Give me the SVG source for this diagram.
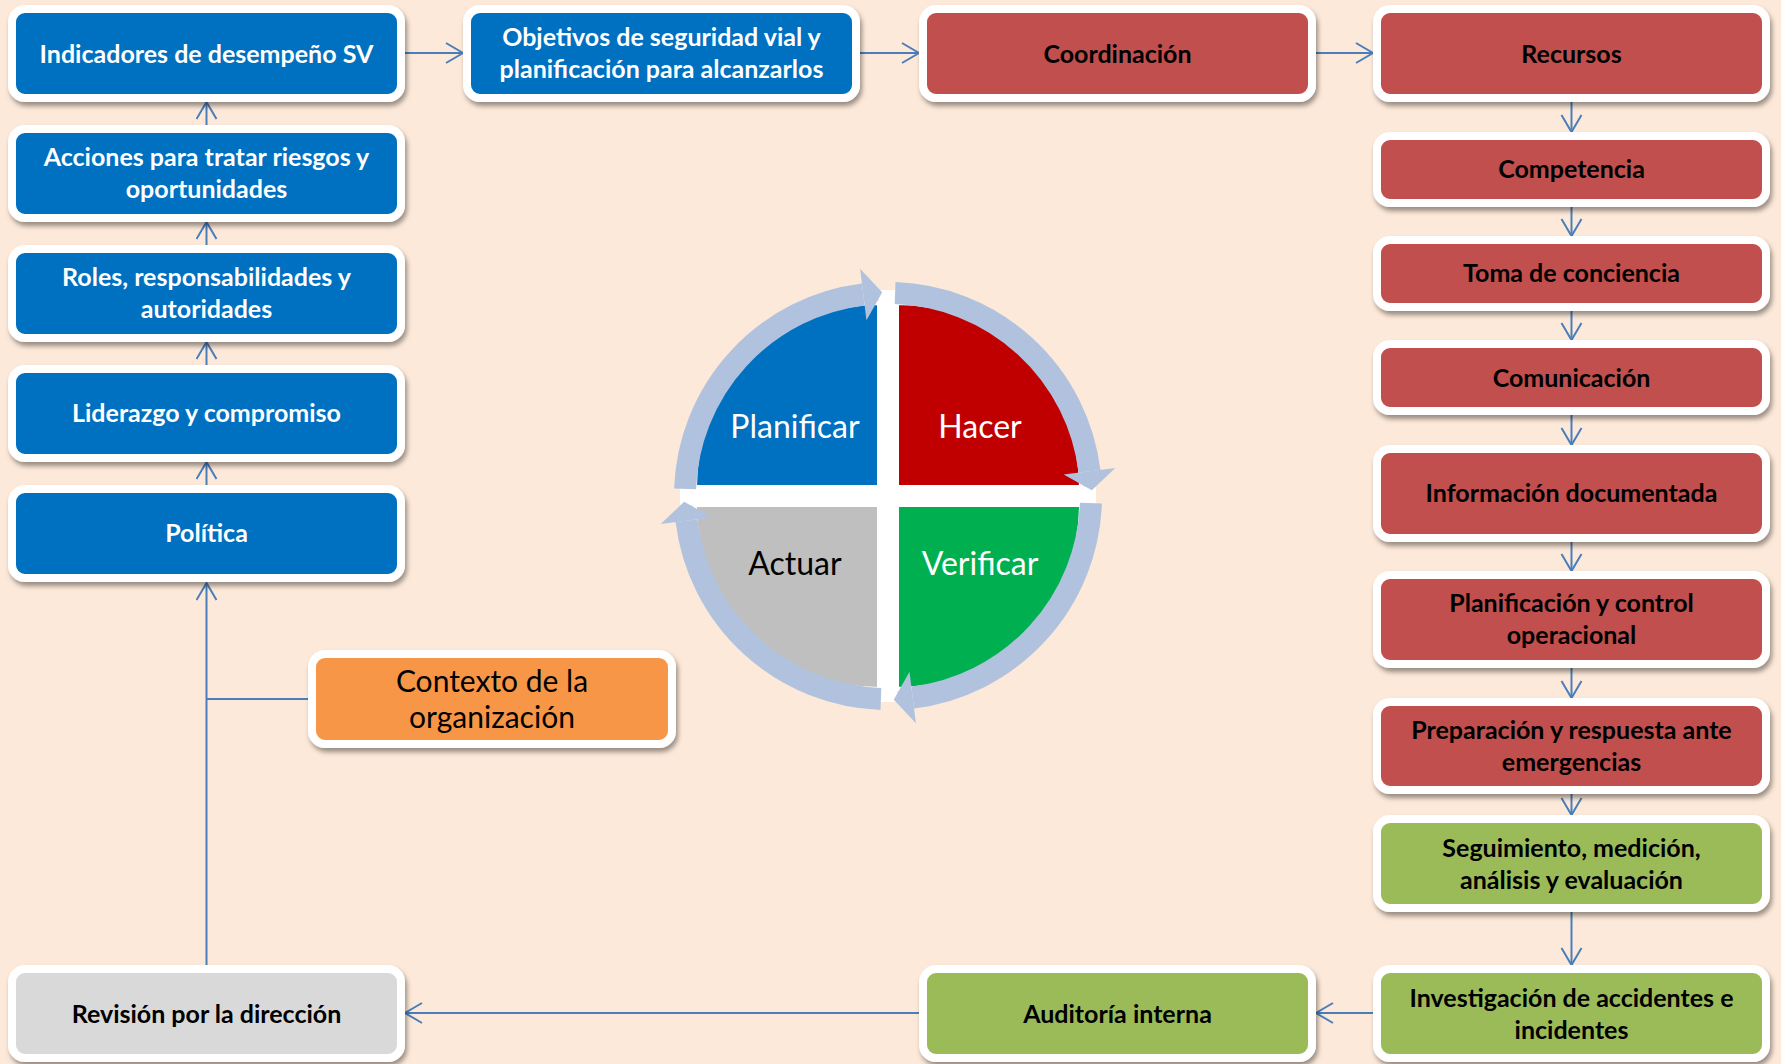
<svg xmlns="http://www.w3.org/2000/svg" xmlns:xlink="http://www.w3.org/1999/xlink" width="1781" height="1064" viewBox="0 0 1781 1064">
<defs>
<style>
.box{stroke:#fff;stroke-width:8;filter:url(#sh)}
.blue{fill:#0070C0}.red{fill:#C0504D}.green{fill:#9BBB59}.gray{fill:#D9D9D9}.orange{fill:#F79646}
.t{font-family:Lato,"Liberation Sans",sans-serif;font-weight:bold;font-size:25px;text-anchor:middle}
.w{fill:#fff}.k{fill:#000}
.ctx{font-family:Lato,"Liberation Sans",sans-serif;font-size:30px;text-anchor:middle;fill:#000}
.pd{font-family:Lato,"Liberation Sans",sans-serif;font-size:32px;text-anchor:middle}
.c{fill:none;stroke:#4A7EBB;stroke-width:2}
.ca{fill:none;stroke:#4A7EBB;stroke-width:2;marker-end:url(#ah)}
.ring{fill:none;stroke:#B0C2DE;stroke-width:22}
</style>
<filter id="sh" x="-10%" y="-20%" width="120%" height="150%">
<feDropShadow dx="2" dy="4" stdDeviation="2.5" flood-color="#000" flood-opacity="0.4"/>
</filter>
<marker id="ah" markerUnits="userSpaceOnUse" markerWidth="22" markerHeight="24" refX="18" refY="11" orient="auto">
<path d="M1,1 L18,11 L1,21" fill="none" stroke="#4A7EBB" stroke-width="2"/>
</marker>
<g id="seg">
<path class="ring" d="M685.1 488.9 A203 203 0 0 1 863.3 294.5"/>
<polygon points="860.1,268.7 882.2,292.2 866.5,320.3" fill="#B0C2DE"/>
</g>
</defs>
<rect x="0" y="0" width="1781" height="1064" fill="#FDE9D9"/>

<g id="connectors">
<line class="ca" x1="206.5" y1="125" x2="206.5" y2="102"/>
<line class="ca" x1="206.5" y1="245" x2="206.5" y2="222"/>
<line class="ca" x1="206.5" y1="365" x2="206.5" y2="342"/>
<line class="ca" x1="206.5" y1="485" x2="206.5" y2="462"/>
<line class="ca" x1="206.5" y1="965" x2="206.5" y2="583"/>
<line class="c" x1="206.5" y1="699" x2="308" y2="699"/>
<line class="ca" x1="405" y1="53" x2="463" y2="53"/>
<line class="ca" x1="860" y1="53" x2="919" y2="53"/>
<line class="ca" x1="1316" y1="53" x2="1373" y2="53"/>
<line class="ca" x1="1571.5" y1="102" x2="1571.5" y2="132"/>
<line class="ca" x1="1571.5" y1="207" x2="1571.5" y2="236"/>
<line class="ca" x1="1571.5" y1="311" x2="1571.5" y2="340"/>
<line class="ca" x1="1571.5" y1="415" x2="1571.5" y2="445"/>
<line class="ca" x1="1571.5" y1="542" x2="1571.5" y2="571"/>
<line class="ca" x1="1571.5" y1="668" x2="1571.5" y2="698"/>
<line class="ca" x1="1571.5" y1="794" x2="1571.5" y2="815"/>
<line class="ca" x1="1571.5" y1="912" x2="1571.5" y2="965"/>
<line class="ca" x1="1373" y1="1013" x2="1316" y2="1013"/>
<line class="ca" x1="919" y1="1013" x2="405" y2="1013"/>
</g>

<g id="n-indicadores"><rect class="box blue" x="12" y="9" width="389" height="89" rx="13"/><text class="t w" x="206.5" y="63">Indicadores de desempeño SV</text></g>
<g id="n-acciones"><rect class="box blue" x="12" y="129" width="389" height="89" rx="13"/><text class="t w" x="206.5" y="166">Acciones para tratar riesgos y</text><text class="t w" x="206.5" y="198">oportunidades</text></g>
<g id="n-roles"><rect class="box blue" x="12" y="249" width="389" height="89" rx="13"/><text class="t w" x="206.5" y="286">Roles, responsabilidades y</text><text class="t w" x="206.5" y="318">autoridades</text></g>
<g id="n-liderazgo"><rect class="box blue" x="12" y="369" width="389" height="89" rx="13"/><text class="t w" x="206.5" y="422">Liderazgo y compromiso</text></g>
<g id="n-politica"><rect class="box blue" x="12" y="489" width="389" height="89" rx="13"/><text class="t w" x="206.5" y="542">Política</text></g>
<g id="n-revision"><rect class="box gray" x="12" y="969" width="389" height="89" rx="13"/><text class="t k" x="206.5" y="1022.5">Revisión por la dirección</text></g>
<g id="n-contexto"><rect class="box orange" x="312" y="654" width="360" height="90" rx="13"/><text class="ctx" x="492" y="692">Contexto de la</text><text class="ctx" x="492" y="728">organización</text></g>

<g id="n-objetivos"><rect class="box blue" x="467" y="9" width="389" height="89" rx="13"/><text class="t w" x="661.5" y="46">Objetivos de seguridad vial y</text><text class="t w" x="661.5" y="78">planificación para alcanzarlos</text></g>
<g id="n-coordinacion"><rect class="box red" x="923" y="9" width="389" height="89" rx="13"/><text class="t k" x="1117.5" y="63">Coordinación</text></g>
<g id="n-auditoria"><rect class="box green" x="923" y="969" width="389" height="89" rx="13"/><text class="t k" x="1117.5" y="1022.5">Auditoría interna</text></g>

<g id="n-recursos"><rect class="box red" x="1377" y="9" width="389" height="89" rx="13"/><text class="t k" x="1571.5" y="63">Recursos</text></g>
<g id="n-competencia"><rect class="box red" x="1377" y="136" width="389" height="67" rx="13"/><text class="t k" x="1571.5" y="178">Competencia</text></g>
<g id="n-toma"><rect class="box red" x="1377" y="240" width="389" height="67" rx="13"/><text class="t k" x="1571.5" y="282">Toma de conciencia</text></g>
<g id="n-comunicacion"><rect class="box red" x="1377" y="344" width="389" height="67" rx="13"/><text class="t k" x="1571.5" y="386.5">Comunicación</text></g>
<g id="n-informacion"><rect class="box red" x="1377" y="449" width="389" height="89" rx="13"/><text class="t k" x="1571.5" y="502">Información documentada</text></g>
<g id="n-planificacion"><rect class="box red" x="1377" y="575" width="389" height="89" rx="13"/><text class="t k" x="1571.5" y="612">Planificación y control</text><text class="t k" x="1571.5" y="644">operacional</text></g>
<g id="n-preparacion"><rect class="box red" x="1377" y="702" width="389" height="88" rx="13"/><text class="t k" x="1571.5" y="738.5">Preparación y respuesta ante</text><text class="t k" x="1571.5" y="770.5">emergencias</text></g>
<g id="n-seguimiento"><rect class="box green" x="1377" y="819" width="389" height="89" rx="13"/><text class="t k" x="1571.5" y="856.5">Seguimiento, medición,</text><text class="t k" x="1571.5" y="888.5">análisis y evaluación</text></g>
<g id="n-investigacion"><rect class="box green" x="1377" y="969" width="389" height="89" rx="13"/><text class="t k" x="1571.5" y="1006.5">Investigación de accidentes e</text><text class="t k" x="1571.5" y="1038.5">incidentes</text></g>

<g id="pdca">
<rect x="680" y="487" width="416" height="18" fill="#fff"/>
<rect x="879" y="290" width="18" height="412" fill="#fff"/>
<g stroke="#fff" stroke-width="4">
<path d="M879 487 L695 487 A184 184 0 0 1 879 303 Z" fill="#0070C0"/>
<path d="M897 487 L897 303 A184 184 0 0 1 1081 487 Z" fill="#C00000"/>
<path d="M897 505 L1081 505 A184 184 0 0 1 897 689 Z" fill="#00B050"/>
<path d="M879 505 L879 689 A184 184 0 0 1 695 505 Z" fill="#BFBFBF"/>
</g>
<use xlink:href="#seg"/>
<use xlink:href="#seg" transform="rotate(90 888 496)"/>
<use xlink:href="#seg" transform="rotate(180 888 496)"/>
<use xlink:href="#seg" transform="rotate(270 888 496)"/>
<text class="pd w" x="795" y="438">Planificar</text>
<text class="pd w" x="980" y="438">Hacer</text>
<text class="pd k" x="795" y="575">Actuar</text>
<text class="pd w" x="980" y="575">Verificar</text>
</g>
</svg>
